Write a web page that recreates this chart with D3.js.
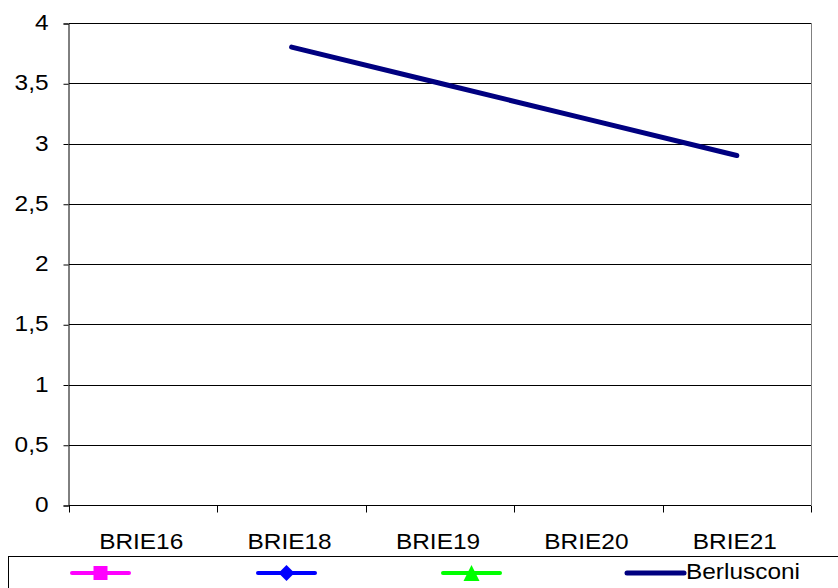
<!DOCTYPE html>
<html>
<head>
<meta charset="utf-8">
<script src="https://cdn.jsdelivr.net/npm/d3@7"></script>
<style>
  body { margin: 0; background: #fff; }
  svg { display: block; font-family: "Liberation Sans", Arial, sans-serif; }
</style>
</head>
<body>
<svg id="chart"></svg>
<script>
const categories = ['BRIE16', 'BRIE18', 'BRIE19', 'BRIE20', 'BRIE21'];
const berlusconi = [null, 3.8, 3.5, 3.2, 2.9];
const yTicks = [0, 0.5, 1, 1.5, 2, 2.5, 3, 3.5, 4];
const legendNames = ['', '', '', 'Berlusconi'];
const legendColors = ['#ff00ff', '#0000ff', '#00ff00', '#000080'];
const legendSymbols = ['square', 'diamond', 'triangle', null];

const W = 838, H = 588;
const margin = {top: 23, right: 27, bottom: 83, left: 69};
const stretch = 1.11; // reference text is a bit wide
const fontSize = 22;

const svg = d3.select('#chart').attr('width', W).attr('height', H);

const x = d3.scaleBand()
  .domain(categories)
  .range([margin.left, W - margin.right])
  .padding(0);

const y = d3.scaleLinear()
  .domain([0, 4])
  .range([H - margin.bottom, margin.top]);

const fmt = d => String(d).replace('.', ',');
const crisp = v => Math.round(v) + 0.5;

// gridlines
svg.append('g')
  .selectAll('line')
  .data(yTicks.filter(d => d > 0))
  .enter().append('line')
    .attr('x1', margin.left)
    .attr('x2', W - margin.right)
    .attr('y1', d => crisp(y(d)))
    .attr('y2', d => crisp(y(d)))
    .attr('stroke', '#000')
    .attr('stroke-width', 1);

// right border of plot
svg.append('line')
  .attr('x1', crisp(W - margin.right)).attr('x2', crisp(W - margin.right))
  .attr('y1', margin.top).attr('y2', H - margin.bottom)
  .attr('stroke', '#808080');

// y axis
const yAxis = d3.axisLeft(y).tickValues(yTicks).tickFormat(fmt).tickSize(5);
const gy = svg.append('g')
  .attr('transform', 'translate(' + (margin.left - 0.5) + ',0.5)')
  .call(yAxis);
gy.select('.domain').attr('stroke', '#000');
gy.selectAll('.tick line').attr('stroke', '#000');
gy.selectAll('.tick text')
  .attr('font-size', fontSize)
  .attr('font-family', '"Liberation Sans", Arial, sans-serif')
  .attr('fill', '#000')
  .attr('x', null)
  .attr('dy', null)
  .attr('transform', 'translate(-20,6) scale(' + stretch + ',1)');

// x axis with ticks at category boundaries
const gx = svg.append('g').attr('transform', 'translate(0,' + crisp(y(0)) + ')');
gx.append('line')
  .attr('x1', margin.left).attr('x2', W - margin.right)
  .attr('stroke', '#000');
const bounds = categories.map(c => x(c)).concat([x(categories[categories.length - 1]) + x.bandwidth()]);
gx.selectAll('.tk')
  .data(bounds)
  .enter().append('line')
    .attr('class', 'tk')
    .attr('x1', d => crisp(d)).attr('x2', d => crisp(d))
    .attr('y1', 0).attr('y2', 7)
    .attr('stroke', '#000');
gx.selectAll('text')
  .data(categories)
  .enter().append('text')
    .attr('transform', d => 'translate(' + (x(d) + x.bandwidth() / 2 - 2) + ',43) scale(' + stretch + ',1)')
    .attr('text-anchor', 'middle')
    .attr('font-size', fontSize)
    .text(d => d);

// data line
const line = d3.line()
  .defined(d => d.v !== null)
  .x(d => x(d.c) + x.bandwidth() / 2)
  .y(d => y(d.v));

svg.append('path')
  .datum(categories.map((c, i) => ({c: c, v: berlusconi[i]})))
  .attr('d', line)
  .attr('fill', 'none')
  .attr('stroke', '#000080')
  .attr('stroke-width', 5)
  .attr('stroke-linecap', 'round')
  .attr('stroke-linejoin', 'round');

// legend
const legendY = 556;
svg.append('rect')
  .attr('x', 8.5).attr('y', legendY + 0.5)
  .attr('width', W).attr('height', 60)
  .attr('fill', '#fff')
  .attr('stroke', '#000');

const legendX = [72, 258, 443, 627];
const items = svg.append('g').selectAll('g')
  .data(legendNames)
  .enter().append('g')
    .attr('transform', (d, i) => 'translate(' + legendX[i] + ',' + (legendY + 17) + ')');

items.append('line')
  .attr('x1', 0).attr('x2', 57)
  .attr('stroke', (d, i) => legendColors[i])
  .attr('stroke-width', (d, i) => i === 3 ? 5 : 4)
  .attr('stroke-linecap', 'round');

const markerPath = {
  square: 'M-7,-7H7V7H-7Z',
  diamond: 'M0,-8L8,0L0,8L-8,0Z',
  triangle: 'M0,-8L8,8H-8Z'
};
items.filter((d, i) => legendSymbols[i] !== null)
  .append('path')
    .attr('transform', 'translate(28.5,0)')
    .attr('d', (d, i) => markerPath[legendSymbols[i]])
    .attr('fill', (d, i) => legendColors[i]);

items.append('text')
  .attr('transform', 'translate(59,6) scale(' + stretch + ',1)')
  .attr('font-size', fontSize)
  .text(d => d);
</script>
</body>
</html>
